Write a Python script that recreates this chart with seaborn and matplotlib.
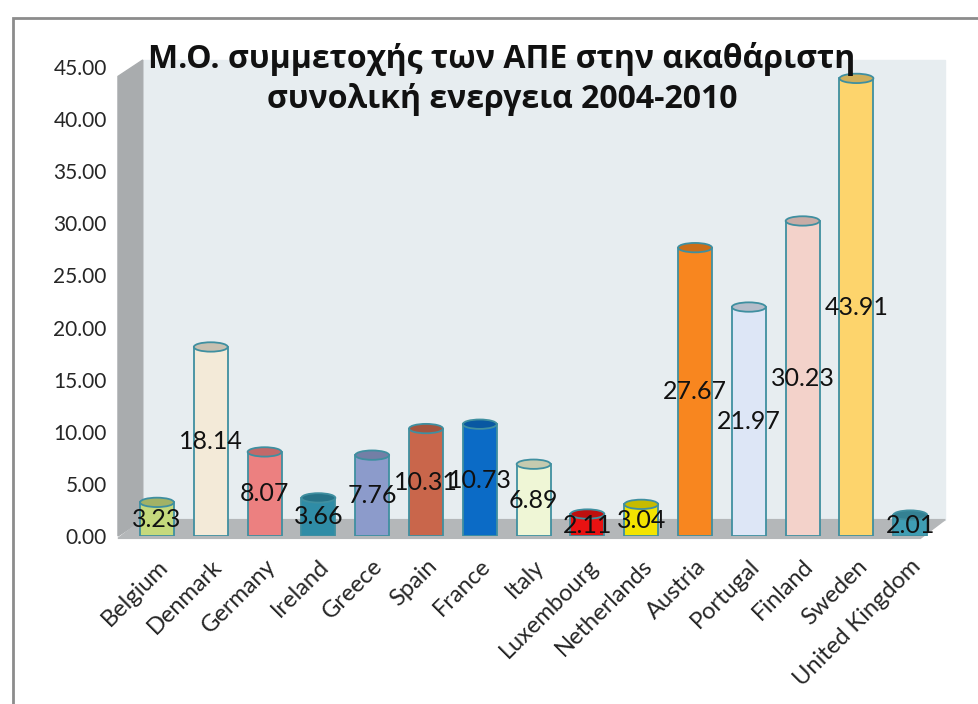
import matplotlib
matplotlib.use("Agg")
import matplotlib.pyplot as plt
from matplotlib.patches import Polygon, Rectangle, Ellipse
import matplotlib.colors as mcolors
import pandas as pd
import seaborn as sns

countries = ["Belgium", "Denmark", "Germany", "Ireland", "Greece", "Spain", "France",
             "Italy", "Luxembourg", "Netherlands", "Austria", "Portugal", "Finland",
             "Sweden", "United Kingdom"]
share = [3.23, 18.14, 8.07, 3.66, 7.76, 10.31, 10.73, 6.89, 2.11, 3.04,
         27.67, 21.97, 30.23, 43.91, 2.01]
bar_colors = ["#c5d97c", "#f3ead8", "#ec8080", "#2f8ca6", "#8c9bcb", "#c9664b", "#0b6bc6",
              "#eff6d6", "#e81212", "#f2e400", "#f8861f", "#dde6f6", "#f3d2ca",
              "#fdd46c", "#3f9db3"]
y_ticks = [0, 5, 10, 15, 20, 25, 30, 35, 40, 45]
title = "Μ.Ο. συμμετοχής των ΑΠΕ στην ακαθάριστη\nσυνολική ενεργεια 2004-2010"

df = pd.DataFrame({"country": countries, "share": share})

sns.set_theme(style="white")
plt.rcParams["font.family"] = ["Open Sans", "DejaVu Sans"]

fig = plt.figure(figsize=(9.79, 7.04), dpi=100)
ax = fig.add_axes([0.1205, 0.2386, 0.845, 0.6662])
ax.set_facecolor("none")

# fake 3D walls: back wall, left wall, floor
ax.add_patch(Rectangle((0.03, 0.035), 0.97, 0.98, transform=ax.transAxes,
                       color="#e7edf0", zorder=0, clip_on=False))
ax.add_patch(Polygon([(0, 0), (0.03, 0.035), (0.03, 1.015), (0, 0.98)], transform=ax.transAxes,
                     color="#a9acae", zorder=0, clip_on=False))
ax.add_patch(Polygon([(0, -0.005), (0.97, -0.005), (1.0, 0.035), (0.03, 0.035)], transform=ax.transAxes,
                     color="#b4b7b9", zorder=0, clip_on=False))

sns.barplot(data=df, x="country", y="share", hue="country", palette=bar_colors,
            saturation=1, legend=False, width=0.63, edgecolor="#3f8fa0", linewidth=1.3,
            ax=ax, zorder=2)

# cylinder tops
bars = [c[0] for c in ax.containers]
for p, c in zip(bars, bar_colors):
    cx = p.get_x() + p.get_width() / 2
    darker = [v * 0.82 for v in mcolors.to_rgb(c)]
    ax.add_patch(Ellipse((cx, p.get_height()), p.get_width(), 0.9, facecolor=darker,
                         edgecolor="#3f8fa0", lw=1.3, zorder=3))

for cont in ax.containers:
    ax.bar_label(cont, fmt="%.2f", label_type="center", fontsize=18, color="#111111",
                 family=["Lato", "DejaVu Sans"], zorder=4)

ax.set_xlim(-0.725, 14.65)
ax.set_ylim(0, 45)
ax.set_yticks(y_ticks)
ax.set_yticklabels([f"{v:.2f}" for v in y_ticks], fontsize=15, family=["Lato", "DejaVu Sans"])
ax.set_xticks(range(len(countries)))
ax.set_xticklabels(countries, rotation=45, ha="right", rotation_mode="anchor", fontsize=17,
                   family=["Lato", "DejaVu Sans"])
ax.tick_params(axis="both", length=0, pad=8)
ax.tick_params(axis="x", pad=14)
ax.set_xlabel("")
ax.set_ylabel("")
for s in ax.spines.values():
    s.set_visible(False)

fig.text(502 / 979, 1 - 79 / 704, title, ha="center", va="center", fontsize=23,
         fontweight="bold", linespacing=1.3, color="#111111")

fig.patches.append(Rectangle((13 / 979, -0.01), 1.0, 1 - 18 / 704 + 0.01,
                             transform=fig.transFigure, fill=False,
                             edgecolor="#8c8c8c", lw=2))

fig.savefig("out.png", dpi=100)
